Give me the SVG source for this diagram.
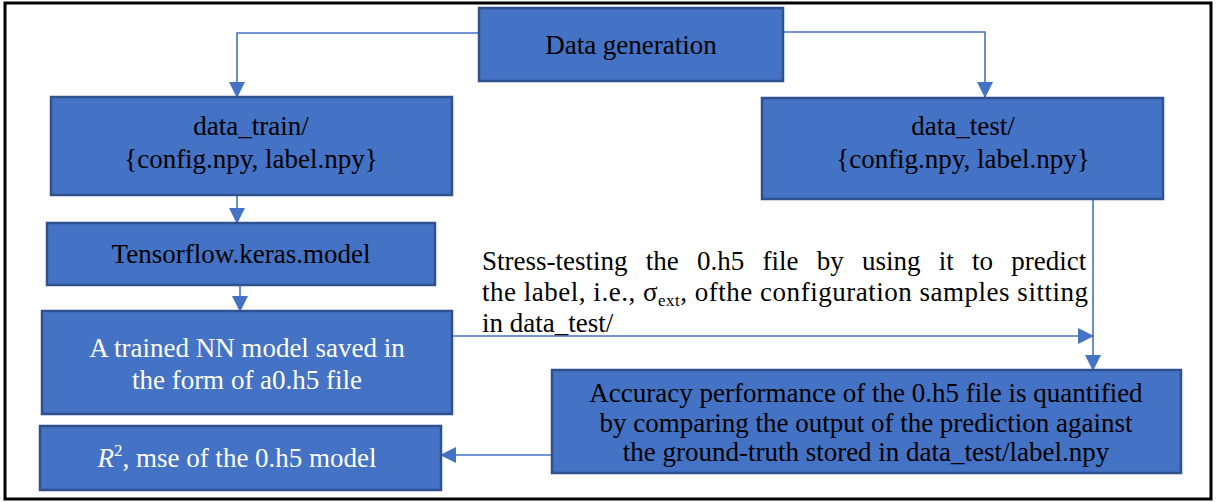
<svg xmlns="http://www.w3.org/2000/svg" width="1216" height="502" viewBox="0 0 1216 502">
<style>
.box{fill:#4472C4;stroke:#2F528F;stroke-width:2.5}
.t{font-family:"Liberation Serif","Times New Roman",serif;font-size:27px;fill:#000}
.w{fill:#fff}
.c{text-anchor:middle}
.conn{fill:none;stroke:#4472C4;stroke-width:1.6}
</style>
<defs>
<marker id="ah" markerUnits="userSpaceOnUse" markerWidth="16" markerHeight="16" viewBox="0 0 16 16" refX="15" refY="8" orient="auto">
<path d="M0,0 L16,8 L0,16 Z" fill="#4472C4"/>
</marker>
</defs>
<rect x="5" y="3" width="1206" height="496" fill="#fff" stroke="#000" stroke-width="3"/>

<g id="connectors">
<path class="conn" d="M479,33 H237 V97" marker-end="url(#ah)"/>
<path class="conn" d="M783,32 H985 V97" marker-end="url(#ah)"/>
<path class="conn" d="M237,195 V223" marker-end="url(#ah)"/>
<path class="conn" d="M240,285 V311" marker-end="url(#ah)"/>
<path class="conn" d="M1093,199 V370" marker-end="url(#ah)"/>
<path class="conn" d="M452,336 H1093" marker-end="url(#ah)"/>
<path class="conn" d="M552,455 H441" marker-end="url(#ah)"/>
</g>

<g id="data-generation">
<rect class="box" x="479" y="8" width="304" height="73"/>
<text class="t c" x="631" y="54">Data generation</text>
</g>

<g id="data-train">
<rect class="box" x="51" y="97" width="401" height="98"/>
<text class="t c" x="251" y="135">data_train/</text>
<text class="t c" x="251" y="168">{config.npy, label.npy}</text>
</g>

<g id="data-test">
<rect class="box" x="762" y="98" width="401" height="101"/>
<text class="t c" x="963" y="135">data_test/</text>
<text class="t c" x="963" y="168">{config.npy, label.npy}</text>
</g>

<g id="tf-model">
<rect class="box" x="47" y="223" width="388" height="62"/>
<text class="t c" x="241" y="263">Tensorflow.keras.model</text>
</g>

<g id="trained-model">
<rect class="box" x="42" y="311" width="410" height="103"/>
<text class="t w c" x="247" y="357">A trained NN model saved in</text>
<text class="t w c" x="247" y="389">the form of a0.h5 file</text>
</g>

<g id="stress-label">
<text class="t" x="482" y="270" word-spacing="11.5">Stress-testing the 0.h5 file by using it to predict</text>
<text class="t" x="482" y="301" textLength="606" lengthAdjust="spacing">the label, i.e., σ<tspan font-size="17" dy="5">ext</tspan><tspan dy="-5">, ofthe configuration samples sitting</tspan></text>
<text class="t" x="482" y="332">in data_test/</text>
</g>

<g id="accuracy">
<rect class="box" x="552" y="370" width="629" height="103"/>
<text class="t c" x="866" y="402">Accuracy performance of the 0.h5 file is quantified</text>
<text class="t c" x="866" y="432">by comparing the output of the prediction against</text>
<text class="t c" x="866" y="461">the ground-truth stored in data_test/label.npy</text>
</g>

<g id="r2">
<rect class="box" x="40" y="426" width="401" height="64"/>
<text class="t w c" x="237" y="467"><tspan font-style="italic">R</tspan><tspan font-size="17" dy="-11">2</tspan><tspan dy="11">, mse of the 0.h5 model</tspan></text>
</g>
</svg>
